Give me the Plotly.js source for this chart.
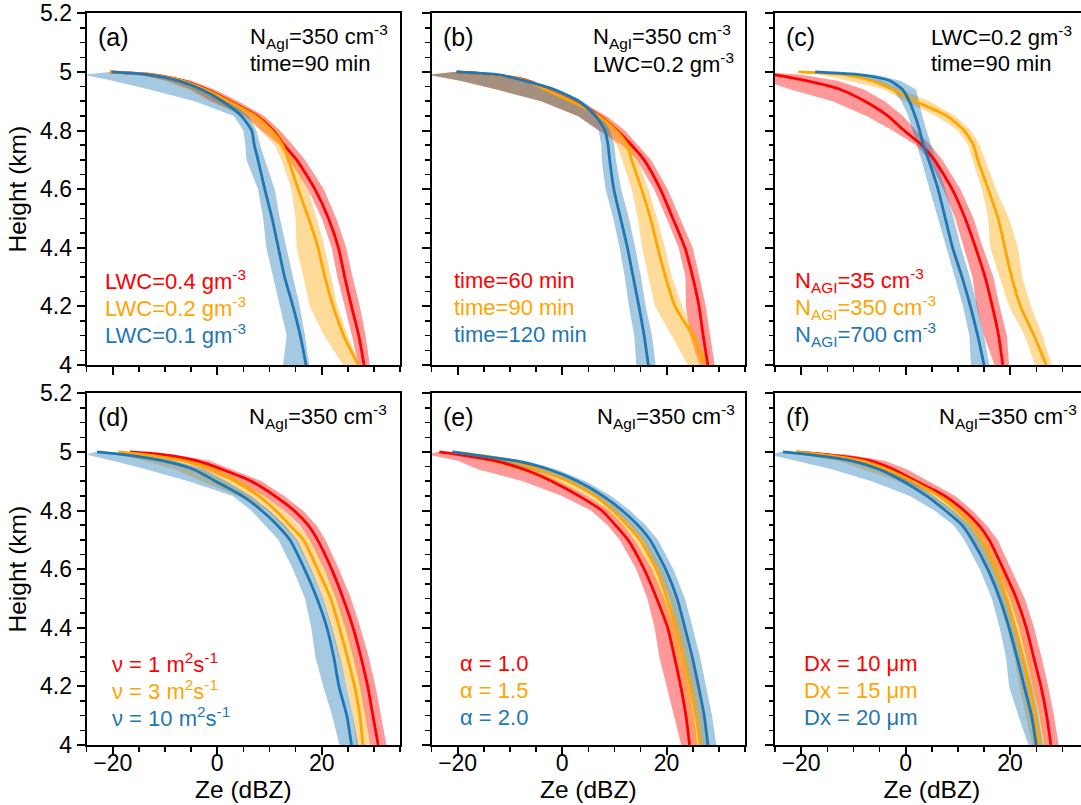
<!DOCTYPE html>
<html>
<head>
<meta charset="utf-8">
<script src="https://cdn.plot.ly/plotly-3.0.1.min.js"></script>
<style>
html,body{margin:0;padding:0;overflow:hidden;background:#fff;}
#plot{width:1089px;height:805px;}
</style>
</head>
<body>
<div id="plot"></div>
<script>
// Heights (km) shared by all profiles
const H = [5.0, 4.99, 4.97, 4.94, 4.9, 4.85, 4.8, 4.75, 4.7, 4.6, 4.5, 4.4, 4.3, 4.2, 4.1, 4.0];

// Panel (a): LWC
const a_red    = [-20.5, -12, -6.5, -2, 2.5, 7.6, 10.7, 12.8, 15.2, 18.7, 21.3, 23.2, 24.4, 25.7, 27.1, 28.1];
const a_red_lo = [-21, -15, -9.5, -5, -1, 5.5, 8.5, 12, 13.8, 17.4, 20, 21.9, 23, 24.4, 25.8, 27.0];
const a_red_hi = [-20, -11, -5, -0.5, 4, 9, 12, 14.5, 16.8, 20.4, 22.8, 24.7, 25.9, 27.3, 28.4, 29.2];
const a_org    = [-20.5, -12.3, -6.8, -2.3, 2.2, 7.3, 10.4, 12.5, 13.6, 15.5, 17.5, 19.3, 20.6, 22.2, 24.2, 27.0];
const a_org_lo = [-21, -15, -10, -5.5, -1.5, 5, 8.2, 11, 12.3, 14.2, 15, 15.2, 16.5, 17.7, 20.5, 24.1];
const a_org_hi = [-20, -11.5, -5.5, -1, 3.5, 8.5, 11.8, 13.5, 14.9, 17.4, 19, 20.6, 21.8, 23, 25, 27.3];
const a_blu    = [-20.2, -13, -7.5, -3, 1, 4.6, 6.6, 7.1, 7.8, 9.1, 10.5, 11.7, 12.9, 14.5, 15.9, 17.0];
const a_blu_lo = [-20.7, -25.5, -20, -13, -4.3, 3.2, 5.0, 5.4, 5.6, 7.8, 8.8, 9.4, 10.7, 12, 13.3, 12.6];
const a_blu_hi = [-19.7, -12, -6, -1.5, 2.5, 6, 7.5, 8.2, 9.1, 11, 12, 13.3, 14.5, 15.8, 16.8, 17.6];

// Panel (b): time
const b_red    = [-20.2, -13, -6.5, -3, 2, 7.2, 10.5, 13.3, 15.7, 18.8, 21.2, 23.5, 25.0, 26.2, 27.0, 27.9];
const b_red_lo = [-20.7, -25.5, -19.5, -12.5, -4, 3, 7, 11.5, 14.3, 17.6, 20, 22.3, 23.6, 23.7, 24.5, 26.3];
const b_red_hi = [-19.7, -12, -5.5, -2, 3.5, 8.5, 12, 14.5, 17, 20.2, 22.6, 25, 26.3, 27.5, 28.3, 29.2];
const b_org    = [-20.2, -13, -6.8, -3.2, 1.8, 7, 10.3, 12.5, 13.3, 15.2, 16.9, 18.3, 19.8, 21.6, 25.0, 27.3];
const b_org_lo = [-20.7, -25.5, -19.5, -12.5, -4, 3, 8, 10.5, 11.5, 13.3, 14.5, 15.3, 16.5, 17.8, 21, 24];
const b_org_hi = [-19.7, -12, -6, -2.5, 3, 8, 11.5, 13.5, 14.6, 16.5, 18.2, 19.7, 21, 23, 25.8, 28.2];
const b_blu    = [-20.2, -12, -7.3, -1.5, 3.2, 6.4, 8.2, 8.8, 9.1, 9.9, 11.2, 12.5, 13.6, 14.7, 15.7, 16.5];
const b_blu_lo = [-20.7, -25.5, -19.5, -12.5, -4, 3, 7, 7.5, 7.6, 8.3, 9.8, 11, 12, 12.8, 13.8, 14.2];
const b_blu_hi = [-19.7, -11.5, -6.5, -1, 4, 7.5, 9.2, 10.0, 10.3, 11.3, 12.8, 14, 15.1, 16, 17.2, 17.9];

// Panel (c): N_AgI
const c_red    = [-29, -25, -19, -12.5, -7.8, -3.4, -0.3, 3.1, 5.5, 8.9, 11.4, 13.4, 15.2, 16.6, 17.8, 18.6];
const c_red_lo = [-30, -28, -27, -22, -14, -7.5, -2.5, 2, 4.5, 7.2, 9.5, 11.2, 12.8, 13.6, 15, 17];
const c_red_hi = [-28, -20, -13, -8, -4, -0.5, 2, 4.8, 7, 10.5, 13, 14.8, 16.8, 18, 19.4, 19.8];
const c_org    = [-20.5, -11.5, -6.5, -2.5, 1.8, 7.9, 11.2, 13, 13.8, 15.8, 17.7, 19.0, 20.3, 22.0, 24.6, 26.9];
const c_org_lo = [-21, -16, -11, -4, 0, 5.8, 10, 12, 12.8, 14.6, 15.8, 16.2, 18.0, 19.8, 22.8, 24.8];
const c_org_hi = [-20, -10, -4.5, -0.5, 4.5, 9.5, 12.5, 14.2, 15.2, 17.3, 19.8, 21.5, 22.3, 24, 26.2, 28];
const c_blu    = [-17.3, -8.5, -3, -0.6, 0.7, 1.8, 2.7, 3.4, 4.4, 6.2, 7.6, 9.0, 10.8, 12.4, 13.8, 15.0];
const c_blu_lo = [-18, -12, -6, -2.5, -0.8, 0.5, 1.3, 2.2, 3, 4.6, 6.2, 7.8, 9.5, 11, 12.2, 12.5];
const c_blu_hi = [-16, -6, -1, 2, 2.6, 3.2, 4, 4.8, 5.8, 7.6, 9.2, 10.6, 12.3, 13.8, 15, 16];

// Panel (d): nu
const d_red    = [-16.7, -10, -4, 1, 6.5, 11, 14.7, 17.4, 19.2, 21.9, 24.1, 26, 27.5, 28.8, 29.8, 30.8];
const d_red_lo = [-17.2, -13, -7, -2.5, 3, 9, 12.8, 15.8, 17.7, 20.5, 22.7, 24.5, 26, 27.3, 28.3, 29.3];
const d_red_hi = [-16.2, -8, -1.5, 3, 8.5, 12.8, 16.4, 19, 20.7, 23.3, 25.6, 27.4, 29, 30.3, 31.3, 32.4];
const d_org    = [-18.9, -13.5, -6.5, -1.0, 3.4, 7.9, 11.2, 13.9, 16.5, 19.2, 21.7, 23.4, 24.9, 26.3, 27.3, 27.9];
const d_org_lo = [-19.4, -19, -14, -8, -3, 4, 9.5, 12.3, 15, 17.8, 20.2, 21.8, 23.3, 24.8, 26, 26.6];
const d_org_hi = [-18.4, -11, -4.5, 0.5, 5, 9.5, 12.8, 15.5, 18, 20.7, 23.2, 25, 26.4, 27.8, 28.6, 29.3];
const d_blu    = [-23, -17.5, -10.5, -4.5, -0.3, 4.8, 8.5, 11.5, 13.9, 16.7, 19.1, 21.0, 22.3, 23.3, 24.8, 25.7];
const d_blu_lo = [-23.5, -25, -20, -13.5, -5.5, 3, 6.5, 9.2, 11.7, 14.5, 16.8, 18, 18.8, 20.3, 22, 23.4];
const d_blu_hi = [-22.5, -14, -8, -2.5, 1.8, 6.5, 10, 13, 15.3, 18, 20.3, 22, 23.5, 24.8, 26, 27];

// Panel (e): alpha
const e_red    = [-23.5, -19.5, -13, -7.2, -2, 3.2, 7.6, 10.2, 12.6, 15.7, 18.1, 20.2, 21.5, 22.7, 23.7, 24.4];
const e_red_lo = [-24, -25.5, -20, -16, -7.5, 0, 5.5, 8.7, 11, 14.2, 16.3, 17.7, 18.6, 20, 21.5, 22.8];
const e_red_hi = [-23, -17, -11, -5.5, -0.5, 4.8, 9, 11.7, 13.8, 17.2, 19.6, 21.7, 23, 24.2, 25.2, 25.9];
const e_org    = [-21, -16.5, -9.8, -4.7, 1.2, 6.3, 9.7, 12.5, 14.9, 18.0, 20.1, 21.8, 23.2, 24.5, 25.6, 26.4];
const e_org_lo = [-21.5, -20, -15, -9, -1.5, 4.8, 8.4, 11.2, 13.6, 16.6, 18.8, 20.4, 21.8, 23.1, 24.2, 25.0];
const e_org_hi = [-20.5, -14, -8, -3, 2.5, 7.6, 11, 13.8, 16.2, 19.3, 21.5, 23.2, 24.6, 25.9, 27, 27.8];
const e_blu    = [-21, -17, -9, -2.5, 3.0, 7.8, 11.5, 14.5, 16.8, 19.8, 22.0, 23.5, 24.9, 26.1, 27.2, 27.9];
const e_blu_lo = [-21.5, -20, -13, -6, 1.2, 6.2, 10, 13, 15.3, 18.3, 20.5, 22, 23.4, 24.6, 25.7, 26.4];
const e_blu_hi = [-20.5, -15, -7, -1, 4.5, 9.4, 13, 16, 18.3, 21.3, 23.5, 25, 26.4, 27.6, 28.7, 29.5];

// Panel (f): Dx
const f_red    = [-20.8, -14.5, -6.8, -2.3, 2.0, 7.5, 11.2, 14.0, 16.0, 18.7, 21.2, 23.1, 24.5, 25.9, 27.0, 27.8];
const f_red_lo = [-21.3, -18, -10, -5, 0, 6, 9.8, 12.6, 14.8, 17.3, 19.9, 21.7, 23, 24.3, 25.6, 26.5];
const f_red_hi = [-20.3, -11, -4, 0.3, 4.5, 9.5, 12.8, 15.5, 17.6, 20.2, 22.8, 24.6, 26, 27.3, 28.4, 29.3];
const f_org    = [-21, -15.5, -8.5, -3.5, 1.3, 6.4, 9.8, 12.7, 14.5, 17.2, 19.3, 20.9, 22.4, 23.6, 24.7, 25.6];
const f_org_lo = [-21.5, -20, -13, -8, -1.5, 4.5, 8.2, 11.2, 13, 15.7, 17.8, 19.4, 20.8, 21.8, 23.0, 24.2];
const f_org_hi = [-20.5, -12, -6, -1.5, 3, 8, 11.3, 14.2, 16, 18.7, 20.8, 22.4, 23.9, 25.1, 26.2, 27.0];
const f_blu    = [-23.5, -18, -10.5, -5, -0.5, 4.0, 7.6, 10.8, 12.7, 15.7, 18.0, 19.8, 21.3, 22.7, 24.1, 25.0];
const f_blu_lo = [-24, -26, -21, -14, -6.5, 0.8, 5.5, 9.2, 11.2, 14.2, 16.5, 18, 19.2, 19.8, 21.6, 23.5];
const f_blu_hi = [-23, -15, -8, -3, 1.2, 5.5, 9.2, 12.4, 14.3, 17.2, 19.6, 21.3, 22.8, 24.2, 25.4, 26.3];

// Labels
const panelTags = ['(a)', '(b)', '(c)', '(d)', '(e)', '(f)'];
const condText = [
  ['N<sub>AgI</sub>=350 cm<sup>-3</sup>', 'time=90 min'],
  ['N<sub>AgI</sub>=350 cm<sup>-3</sup>', 'LWC=0.2 gm<sup>-3</sup>'],
  ['LWC=0.2 gm<sup>-3</sup>', 'time=90 min'],
  ['N<sub>AgI</sub>=350 cm<sup>-3</sup>'],
  ['N<sub>AgI</sub>=350 cm<sup>-3</sup>'],
  ['N<sub>AgI</sub>=350 cm<sup>-3</sup>']
];
const seriesNames = [
  ['LWC=0.4 gm<sup>-3</sup>', 'LWC=0.2 gm<sup>-3</sup>', 'LWC=0.1 gm<sup>-3</sup>'],
  ['time=60 min', 'time=90 min', 'time=120 min'],
  ['N<sub>AGI</sub>=35 cm<sup>-3</sup>', 'N<sub>AGI</sub>=350 cm<sup>-3</sup>', 'N<sub>AGI</sub>=700 cm<sup>-3</sup>'],
  ['ν = 1 m<sup>2</sup>s<sup>-1</sup>', 'ν = 3 m<sup>2</sup>s<sup>-1</sup>', 'ν = 10 m<sup>2</sup>s<sup>-1</sup>'],
  ['α = 1.0', 'α = 1.5', 'α = 2.0'],
  ['Dx = 10 μm', 'Dx = 15 μm', 'Dx = 20 μm']
];
const xTicks = [-20, 0, 20];

const panels = [
  [[a_red, a_red_lo, a_red_hi], [a_org, a_org_lo, a_org_hi], [a_blu, a_blu_lo, a_blu_hi]],
  [[b_red, b_red_lo, b_red_hi], [b_org, b_org_lo, b_org_hi], [b_blu, b_blu_lo, b_blu_hi]],
  [[c_red, c_red_lo, c_red_hi], [c_org, c_org_lo, c_org_hi], [c_blu, c_blu_lo, c_blu_hi]],
  [[d_red, d_red_lo, d_red_hi], [d_org, d_org_lo, d_org_hi], [d_blu, d_blu_lo, d_blu_hi]],
  [[e_red, e_red_lo, e_red_hi], [e_org, e_org_lo, e_org_hi], [e_blu, e_blu_lo, e_blu_hi]],
  [[f_red, f_red_lo, f_red_hi], [f_org, f_org_lo, f_org_hi], [f_blu, f_blu_lo, f_blu_hi]]
];

// ---------- styling / layout ----------
const W = 1089, HT = 805;
const lineColors = ['#ff0000', '#ffa500', '#1f77b4'];
const bandColors = ['rgba(255,0,0,0.4)', 'rgba(255,165,0,0.4)', 'rgba(31,119,180,0.4)'];
const FONT = 'Liberation Sans, Arial, sans-serif';
const colPx = [[86.6, 400.1], [431.5, 745], [775, 1088.5]];
const rowPx = [[13.3, 365], [393.3, 745]];

const traces = [];
const layout = {
  width: W, height: HT,
  margin: {l: 0, r: 0, t: 0, b: 0},
  paper_bgcolor: '#fff', plot_bgcolor: '#fff',
  showlegend: false,
  font: {family: FONT, color: '#000', size: 22},
  annotations: []
};

function px2x(p) { return p / W; }
function py2y(p) { return 1 - p / HT; }

panels.forEach((series, i) => {
  const r = Math.floor(i / 3), c = i % 3;
  const xa = 'x' + (i + 1), ya = 'y' + (i + 1);
  const xk = 'xaxis' + (i === 0 ? '' : i + 1), yk = 'yaxis' + (i === 0 ? '' : i + 1);
  series.forEach((s, k) => {
    traces.push({
      type: 'scatter', mode: 'lines', xaxis: xa, yaxis: ya,
      x: s[1].concat(s[2].slice().reverse()),
      y: H.concat(H.slice().reverse()),
      fill: 'toself', fillcolor: bandColors[k],
      line: {width: 0, color: 'rgba(0,0,0,0)'}, hoverinfo: 'skip'
    });
  });
  series.forEach((s, k) => {
    traces.push({
      type: 'scatter', mode: 'lines', xaxis: xa, yaxis: ya,
      x: s[0], y: H, line: {color: lineColors[k], width: 2.8, shape: 'spline', smoothing: 0.6}
    });
  });
  const common = {
    showline: true, linewidth: 2, linecolor: '#000', mirror: true,
    showgrid: false, zeroline: false, ticks: 'outside', ticklen: 8, tickwidth: 2,
    tickcolor: '#000', tickfont: {family: FONT, size: 23, color: '#000'}
  };
  layout[xk] = Object.assign({}, common, {
    domain: [px2x(colPx[c][0]), px2x(colPx[c][1])],
    range: [-25, 35], tickmode: 'array', tickvals: xTicks,
    minor: {ticks: 'outside', tickmode: 'linear', tick0: 0, dtick: 5, ticklen: 4.5, tickwidth: 1.5, tickcolor: '#000', showgrid: false},
    anchor: ya, showticklabels: r === 1, ticklabelstandoff: -12,
    title: r === 1 ? {text: 'Ze (dBZ)', font: {family: FONT, size: 24.5, color: '#000'}, standoff: 4} : {text: ''}
  });
  layout[yk] = Object.assign({}, common, {
    domain: [py2y(rowPx[r][1]), py2y(rowPx[r][0])],
    range: [4, 5.2], tickmode: 'linear', tick0: 4, dtick: 0.2,
    minor: {ticks: 'outside', tickmode: 'linear', tick0: 4, dtick: 0.05, ticklen: 4.5, tickwidth: 1.5, tickcolor: '#000', showgrid: false},
    anchor: xa, showticklabels: c === 0,
    title: c === 0 ? {text: 'Height (km)', font: {family: FONT, size: 24.5, color: '#000'}, standoff: 6} : {text: ''}
  });

  // text positions (px)
  const x0 = colPx[c][0];
  const y0 = rowPx[r][0];
  layout.annotations.push({
    xref: 'paper', yref: 'paper', x: px2x(x0 + 9), y: py2y(y0 + 24),
    xanchor: 'left', yanchor: 'middle', showarrow: false,
    text: panelTags[i], font: {family: FONT, size: 25, color: '#000'}
  });
  const condLeft = [248, 591, 929, 247, 595, 937][i];
  condText[i].forEach((t, j) => {
    layout.annotations.push({
      xref: 'paper', yref: 'paper', x: px2x(condLeft), y: py2y(y0 + 23 + j * 27),
      xanchor: 'left', yanchor: 'middle', showarrow: false,
      text: t, font: {family: FONT, size: 22, color: '#000'}
    });
  });
  const legLeft = [103, 452, 793, 110, 458, 802][i];
  const legTop = r === 0 ? 280 : 663;
  seriesNames[i].forEach((t, j) => {
    layout.annotations.push({
      xref: 'paper', yref: 'paper', x: px2x(legLeft), y: py2y(legTop + j * 27),
      xanchor: 'left', yanchor: 'middle', showarrow: false,
      text: t, font: {family: FONT, size: 22, color: lineColors[j]}
    });
  });
});

Plotly.newPlot('plot', traces, layout, {staticPlot: true, displayModeBar: false});
</script>
</body>
</html>
